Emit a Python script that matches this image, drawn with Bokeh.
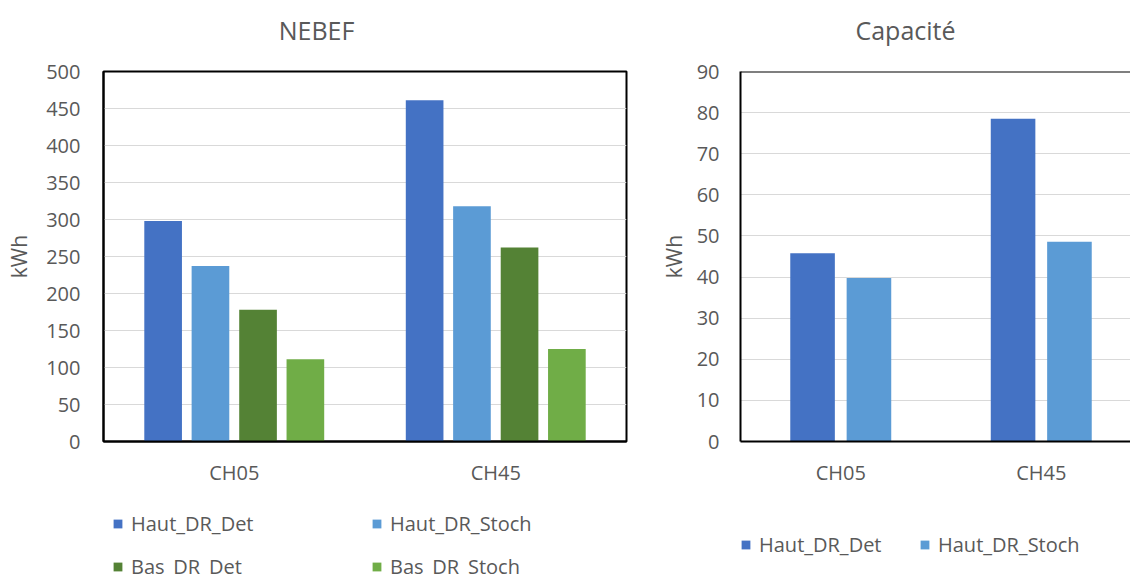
from bokeh.plotting import figure
from bokeh.layouts import row, column
from bokeh.models import Range1d, FixedTicker, Legend, LegendItem, Span, Label
from bokeh.embed import file_html
from bokeh.resources import INLINE

categories = ["CH05", "CH45"]
titles = ["NEBEF", "Capacité"]

# NEBEF (kWh)
nebef_haut_det = [298, 461]
nebef_haut_stoch = [237, 318]
nebef_bas_det = [178, 262]
nebef_bas_stoch = [111, 125]

# Capacité (kWh)
cap_haut_det = [45.8, 78.5]
cap_haut_stoch = [39.8, 48.6]

left_ticks = list(range(0, 501, 50))
right_ticks = list(range(0, 91, 10))

C_HD = "#4472C4"
C_HS = "#5B9BD5"
C_BD = "#548235"
C_BS = "#70AD47"
TXT = "#595959"
FONT = "Open Sans"


def style(p, yticks):
    p.xgrid.grid_line_color = None
    p.ygrid.grid_line_color = "#d9d9d9"
    p.ygrid.grid_line_width = 1
    p.ygrid.ticker = FixedTicker(ticks=yticks)
    p.yaxis.ticker = FixedTicker(ticks=yticks)
    p.xaxis.ticker = FixedTicker(ticks=[i + 0.5 for i in range(len(categories))])
    p.xaxis.major_label_overrides = {i + 0.5: c for i, c in enumerate(categories)}
    for ax in (p.xaxis[0], p.yaxis[0]):
        ax.major_tick_line_color = None
        ax.minor_tick_line_color = None
        ax.major_tick_out = 0
        ax.major_tick_in = 0
        ax.minor_tick_out = 0
        ax.minor_tick_in = 0
        ax.major_label_text_font = FONT
        ax.major_label_text_font_size = "20px"
        ax.major_label_text_color = TXT
        ax.axis_line_color = "black"
        ax.axis_line_width = 2
    p.yaxis.axis_label = "kWh"
    p.yaxis.axis_label_text_font = FONT
    p.yaxis.axis_label_text_font_size = "21px"
    p.yaxis.axis_label_text_font_style = "normal"
    p.yaxis.axis_label_text_color = TXT
    p.xaxis.major_label_standoff = 17
    p.background_fill_color = "white"
    p.border_fill_color = "white"


def blank_fig(width, height, xr, yr):
    f = figure(width=width, height=height, x_range=Range1d(0, xr), y_range=Range1d(0, yr),
               output_backend="svg", toolbar_location=None,
               min_border_left=0, min_border_right=0, min_border_top=0, min_border_bottom=0)
    f.axis.visible = False
    f.grid.visible = False
    f.outline_line_color = None
    f.background_fill_color = "white"
    f.border_fill_color = "white"
    return f


def legend_fig(width, series, x, y, label_width):
    f = blank_fig(width, 76, 1, 1)
    items = []
    for name, col in series:
        # zero-height placeholder bar, only used to draw the legend swatch
        r = f.vbar(x=[-1], top=[-1], bottom=[-1], width=0.1, fill_color=col, line_color=None)
        items.append(LegendItem(label=name, renderers=[r]))
    leg = Legend(items=items, location=(x, y), orientation="horizontal", ncols=2)
    leg.glyph_width = 11
    leg.glyph_height = 11
    leg.label_standoff = 8
    leg.label_width = label_width
    leg.label_height = 16
    leg.spacing = 16
    leg.padding = 0
    leg.margin = 0
    leg.border_line_color = None
    leg.background_fill_alpha = 0
    leg.label_text_font = FONT
    leg.label_text_font_size = "20px"
    leg.label_text_color = TXT
    f.add_layout(leg, "center")
    return f


# ---------------- Header with the two chart titles ----------------
hdr = blank_fig(1130, 56, 1130, 56)
for t, cx in zip(titles, [316, 905]):
    hdr.add_layout(Label(x=cx, y=27, text=t, text_align="center", text_baseline="middle",
                         text_font=FONT, text_font_size="25px", text_color=TXT))

# ---------------- Left: NEBEF ----------------
pl = figure(width=640, height=444, x_range=Range1d(0, 2), y_range=Range1d(0, 500),
            output_backend="svg", toolbar_location=None,
            min_border_left=103, min_border_right=14, min_border_top=15, min_border_bottom=59)
style(pl, left_ticks)
pl.yaxis.major_label_standoff = 23
pl.yaxis.axis_label_standoff = 10
pl.outline_line_color = "black"
pl.outline_line_width = 2

wl = 0.144
offs_l = [-0.272, -0.091, 0.091, 0.272]
series_l = [("Haut_DR_Det", nebef_haut_det, C_HD), ("Haut_DR_Stoch", nebef_haut_stoch, C_HS),
            ("Bas_DR_Det", nebef_bas_det, C_BD), ("Bas_DR_Stoch", nebef_bas_stoch, C_BS)]
for (name, vals, col), off in zip(series_l, offs_l):
    xs = [i + 0.5 + off for i in range(len(categories))]
    pl.vbar(x=xs, top=vals, width=wl, bottom=0, fill_color=col, line_color=None)

# ---------------- Right: Capacité ----------------
xr_end = 390 / 200.5
pr = figure(width=490, height=444, x_range=Range1d(0, xr_end), y_range=Range1d(0, 90),
            output_backend="svg", toolbar_location=None,
            min_border_left=100, min_border_right=0, min_border_top=15, min_border_bottom=59)
style(pr, right_ticks)
pr.yaxis.major_label_standoff = 21
pr.yaxis.axis_label_standoff = 6
pr.outline_line_color = None
pr.add_layout(Span(location=90, dimension="width", line_color="black", line_width=2))

wr = 0.2224
offs_r = [-0.1406, 0.1406]
series_r = [("Haut_DR_Det", cap_haut_det, C_HD), ("Haut_DR_Stoch", cap_haut_stoch, C_HS)]
for (name, vals, col), off in zip(series_r, offs_r):
    xs = [i + 0.5 + off for i in range(len(categories))]
    pr.vbar(x=xs, top=vals, width=wr, bottom=0, fill_color=col, line_color=None)

# ---------------- Legends ----------------
ll = legend_fig(640, [(n, c) for n, _, c in series_l], 112, -4, 224)
lr = legend_fig(490, [(n, c) for n, _, c in series_r], 100, 18, 144)

layout = column(hdr, row(pl, pr), row(ll, lr))
open("out.html", "w").write(file_html(layout, INLINE))
